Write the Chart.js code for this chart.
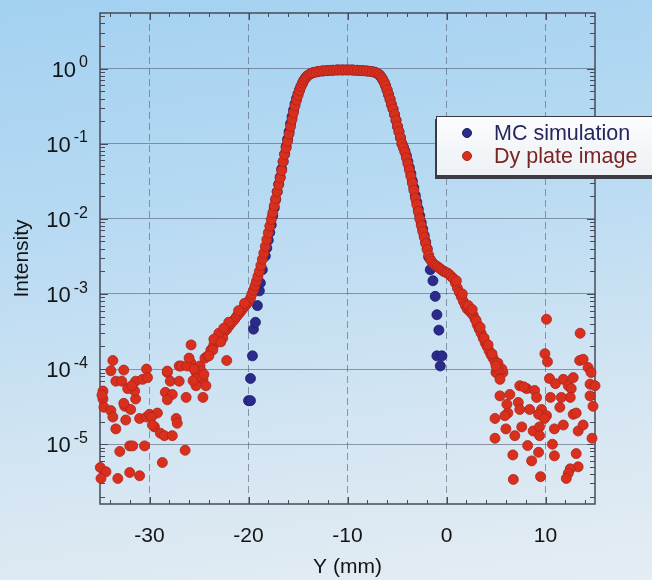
<!DOCTYPE html>
<html>
<head>
<meta charset="utf-8">
<title>Intensity profile</title>
<script src="https://cdn.jsdelivr.net/npm/chart.js@4.4.1/dist/chart.umd.min.js"></script>
<style>
  html, body { margin: 0; padding: 0; }
  body {
    width: 652px;
    height: 580px;
    overflow: hidden;
    background: linear-gradient(172deg, #a3d1f1 0%, #b7daf2 35%, #d3e5f2 70%, #e5edf3 100%);
    font-family: "Liberation Sans", Arial, sans-serif;
  }
  #wrap { position: relative; width: 652px; height: 580px; }
  #legend {
    position: absolute;
    left: 436px;
    top: 116px;
    width: 240px;
    height: 60px;
    box-sizing: border-box;
    border: 1px solid #3a3a44;
    background: linear-gradient(180deg, #fbfcfd, #edf1f5);
    box-shadow: -1px 3px 0 #3c3c46;
  }
  .dot { position: absolute; left: 25px; width: 10px; height: 10px; border-radius: 50%; box-sizing: border-box; }
  .label { position: absolute; left: 57px; height: 23px; line-height: 23px; font-size: 21.5px; white-space: nowrap; }
</style>
</head>
<body>
<div id="wrap">
  <canvas id="chart" width="652" height="580"></canvas>
  <div id="legend"></div>
</div>
<script>
const seriesNames = ["MC simulation", "Dy plate image"];
const xTicks = [-30, -20, -10, 0, 10];
const yExponents = [0, -1, -2, -3, -4, -5];

// Dy plate image: main profile
const dyMain = [
  [-24.4, 1.4e-4], [-24.1, 1.5e-4], [-23.8, 1.8e-4], [-23.5, 2.1e-4], [-23.2, 2.4e-4], [-23.0, 2.6e-4],
  [-22.8, 2.8e-4], [-22.6, 3.0e-4], [-22.4, 3.2e-4], [-22.2, 3.4e-4], [-22.0, 3.7e-4], [-21.8, 4.0e-4],
  [-21.6, 4.3e-4], [-21.4, 4.6e-4], [-21.2, 5.0e-4], [-21.0, 5.4e-4], [-20.8, 5.8e-4], [-20.6, 6.3e-4],
  [-20.4, 6.8e-4], [-20.2, 7.3e-4], [-20.0, 7.9e-4], [-19.8, 8.8e-4], [-19.65, 1.0e-3], [-19.5, 1.12e-3],
  [-19.35, 1.28e-3], [-19.2, 1.48e-3], [-19.05, 1.72e-3], [-18.9, 2.0e-3], [-18.75, 2.4e-3], [-18.6, 2.9e-3],
  [-18.45, 3.5e-3], [-18.3, 4.3e-3], [-18.15, 5.3e-3], [-18.0, 6.5e-3], [-17.85, 8.0e-3], [-17.7, 9.8e-3],
  [-17.55, 1.2e-2], [-17.4, 1.5e-2], [-17.25, 1.85e-2], [-17.1, 2.3e-2], [-16.95, 2.85e-2], [-16.8, 3.5e-2],
  [-16.65, 4.4e-2], [-16.5, 5.8e-2], [-16.35, 7.2e-2], [-16.2, 8.8e-2], [-16.05, 0.108], [-15.9, 0.135],
  [-15.75, 0.17], [-15.6, 0.21], [-15.45, 0.26], [-15.3, 0.32], [-15.15, 0.38], [-15.0, 0.44],
  [-14.85, 0.51], [-14.7, 0.58], [-14.55, 0.64], [-14.4, 0.70], [-14.25, 0.75], [-14.1, 0.79],
  [-13.9, 0.83], [-13.7, 0.86], [-13.5, 0.88], [-13.2, 0.90], [-12.9, 0.92], [-12.6, 0.93],
  [-12.3, 0.94], [-12.0, 0.94], [-11.7, 0.95], [-11.4, 0.95], [-11.1, 0.96], [-10.8, 0.96],
  [-10.5, 0.96], [-10.2, 0.96], [-9.9, 0.96], [-9.6, 0.96], [-9.3, 0.95], [-9.0, 0.95],
  [-8.7, 0.94], [-8.4, 0.94], [-8.1, 0.93], [-7.8, 0.92], [-7.5, 0.91], [-7.2, 0.89],
  [-6.95, 0.86], [-6.75, 0.82], [-6.6, 0.77], [-6.45, 0.72], [-6.3, 0.66], [-6.15, 0.59],
  [-6.0, 0.52], [-5.85, 0.45], [-5.7, 0.39], [-5.55, 0.33], [-5.4, 0.29], [-5.25, 0.245],
  [-5.1, 0.205], [-4.95, 0.17], [-4.8, 0.145], [-4.65, 0.12], [-4.5, 0.10], [-4.35, 0.088],
  [-4.2, 0.077], [-4.05, 0.065], [-3.9, 0.054], [-3.75, 0.045], [-3.6, 0.037], [-3.45, 0.030],
  [-3.3, 0.024], [-3.15, 0.019], [-3.0, 0.0155], [-2.85, 0.0125], [-2.7, 0.010], [-2.55, 0.0082],
  [-2.4, 0.0068], [-2.25, 0.0057], [-2.1, 0.0047], [-1.95, 0.0039], [-1.8, 0.0033], [-1.65, 0.0029],
  [-1.5, 0.0027], [-1.3, 0.0025], [-1.1, 0.0024], [-0.9, 0.0023], [-0.7, 0.0022], [-0.5, 0.0021],
  [-0.3, 0.0020], [-0.1, 0.00195], [0.1, 0.0019], [0.3, 0.0018], [0.5, 0.0017], [0.7, 0.0016],
  [0.9, 0.0014], [1.1, 0.0012], [1.3, 0.00105], [1.5, 9.2e-4], [1.7, 8.0e-4], [1.9, 7.0e-4],
  [2.1, 6.3e-4], [2.3, 6.0e-4], [2.5, 5.6e-4], [2.7, 5.2e-4], [2.9, 4.6e-4], [3.1, 3.9e-4],
  [3.3, 3.4e-4], [3.5, 3.0e-4], [3.7, 2.6e-4], [3.9, 2.25e-4], [4.1, 2.0e-4], [4.3, 1.75e-4],
  [4.5, 1.55e-4], [4.7, 1.4e-4], [4.9, 1.25e-4], [5.1, 1.12e-4], [5.3, 1.02e-4], [5.5, 9.5e-5],
  [5.7, 9.0e-5],
  // second row of the band
  [-20.4, 7.5e-4], [-21.0, 6.0e-4], [-22.0, 4.2e-4], [-22.6, 2.6e-4], [-23.0, 3.0e-4], [-23.6, 1.8e-4],
  [1.0, 1.5e-3], [1.6, 1.0e-3], [2.2, 7.0e-4], [2.6, 6.2e-4], [3.0, 4.4e-4], [3.4, 3.6e-4],
  [3.8, 2.6e-4], [4.2, 2.1e-4], [4.6, 1.6e-4], [5.2, 1.2e-4], [5.0, 9.0e-5]
];

// Dy plate image: noise on the left
const dyLeftTail = [
  [-33.7, 1.3e-4], [-33.9, 9.5e-5], [-32.6, 9.7e-5], [-30.3, 1.0e-4], [-33.4, 6.9e-5], [-32.8, 6.9e-5],
  [-34.7, 5.1e-5], [-34.7, 4.0e-5], [-34.6, 3.1e-5], [-33.9, 2.8e-5], [-33.7, 2.3e-5], [-33.4, 1.6e-5],
  [-32.4, 2.1e-5], [-32.5, 3.2e-5], [-31.9, 2.9e-5], [-31.4, 4.0e-5], [-31.5, 5.1e-5], [-31.4, 6.9e-5],
  [-30.7, 7.3e-5], [-30.2, 7.7e-5], [-31.0, 2.2e-5], [-30.3, 2.3e-5], [-30.0, 2.5e-5], [-29.2, 2.6e-5],
  [-29.5, 1.7e-5], [-28.9, 1.4e-5], [-28.5, 1.3e-5], [-27.7, 1.3e-5], [-27.3, 2.2e-5], [-27.2, 1.9e-5],
  [-28.2, 9.0e-5], [-27.9, 6.9e-5], [-28.4, 4.9e-5], [-27.7, 4.6e-5], [-28.2, 3.9e-5], [-27.0, 6.9e-5],
  [-26.3, 4.2e-5], [-25.8, 2.1e-4], [-27.0, 1.1e-4], [-25.8, 1.2e-4], [-25.3, 9.0e-5], [-24.6, 7.3e-5],
  [-25.3, 6.0e-5], [-24.3, 6.0e-5], [-24.9, 1.1e-4], [-24.6, 4.2e-5], [-24.0, 1.5e-4], [-23.5, 2.5e-4],
  [-22.8, 2.3e-4], [-22.5, 3.5e-4], [-22.2, 1.3e-4], [-33.0, 8.0e-6], [-32.0, 9.5e-6], [-31.7, 9.5e-6],
  [-30.5, 9.5e-6], [-26.4, 8.3e-6], [-28.7, 5.7e-6], [-34.97, 4.9e-6], [-34.4, 4.3e-6], [-34.9, 3.5e-6],
  [-33.2, 3.5e-6], [-32.0, 4.2e-6], [-31.0, 3.8e-6], [-26.8, 1.1e-4], [-28.2, 9.4e-5], [-26.2, 1.1e-4],
  [-25.0, 8.0e-5], [-25.6, 7.0e-5], [-24.8, 9.5e-5], [-25.5, 1.0e-4], [-24.5, 8.5e-5], [-26.0, 1.4e-4],
  [-32.2, 5.5e-5], [-31.8, 6.0e-5], [-32.6, 3.5e-5], [-29.8, 2.3e-5], [-29.7, 1.8e-5], [-34.8, 4.5e-5]
];

// Dy plate image: noise on the right
const dyRightTail = [
  [10.1, 4.6e-4], [13.5, 3.0e-4], [9.94, 1.6e-4], [10.2, 1.25e-4], [13.45, 1.3e-4], [13.8, 1.35e-4],
  [14.3, 1.05e-4], [14.6, 9.0e-5], [5.07, 9.0e-5], [5.6, 1.0e-4], [5.4, 7.3e-5], [10.4, 7.5e-5],
  [11.8, 7.3e-5], [12.8, 7.7e-5], [14.5, 6.3e-5], [15.0, 6.0e-5], [12.3, 6.0e-5], [12.6, 5.5e-5],
  [12.5, 4.2e-5], [11.6, 4.2e-5], [11.45, 3.1e-5], [14.5, 4.4e-5], [14.8, 3.2e-5], [7.4, 6.0e-5],
  [8.1, 5.5e-5], [8.9, 5.2e-5], [9.1, 4.2e-5], [5.4, 4.4e-5], [6.4, 4.6e-5], [10.5, 4.2e-5],
  [6.1, 3.4e-5], [6.2, 2.6e-5], [5.9, 2.4e-5], [7.25, 3.6e-5], [7.4, 2.9e-5], [8.4, 2.9e-5],
  [9.6, 2.9e-5], [9.3, 2.5e-5], [10.1, 2.4e-5], [9.9, 2.2e-5], [12.8, 2.5e-5], [13.1, 2.6e-5],
  [4.9, 2.2e-5], [6.0, 1.6e-5], [6.9, 1.3e-5], [7.6, 1.7e-5], [8.75, 1.5e-5], [9.4, 1.7e-5],
  [9.4, 1.3e-5], [10.9, 1.6e-5], [11.8, 1.8e-5], [13.3, 1.5e-5], [13.8, 1.8e-5], [14.7, 1.2e-5],
  [4.9, 1.2e-5], [8.2, 9.6e-6], [10.7, 1.0e-5], [6.7, 7.2e-6], [9.3, 7.8e-6], [8.6, 6.0e-6],
  [10.9, 7.0e-6], [13.1, 7.5e-6], [13.3, 5.0e-6], [12.5, 4.7e-6], [12.3, 4.1e-6], [12.1, 3.5e-6],
  [6.75, 3.4e-6], [9.5, 3.7e-6], [7.8, 5.8e-5], [11.0, 6.4e-5], [5.2, 1.0e-4], [5.0, 1.1e-4]
];

// MC simulation
const mcMain = [
  [-20.0, 3.8e-5], [-19.8, 3.8e-5], [-19.8, 7.5e-5], [-19.6, 1.5e-4], [-19.5, 3.4e-4], [-19.3, 4.2e-4],
  [-19.1, 7.0e-4], [-18.9, 1.1e-3], [-18.8, 1.4e-3], [-18.6, 2.1e-3], [-18.3, 3.2e-3], [-18.15, 4.1e-3],
  [-18.0, 5.2e-3], [-17.85, 6.6e-3], [-17.7, 8.3e-3], [-17.55, 1.1e-2], [-17.4, 1.4e-2], [-17.25, 1.8e-2],
  [-17.1, 2.3e-2], [-16.95, 2.9e-2], [-16.8, 3.6e-2], [-16.65, 4.6e-2], [-16.5, 5.8e-2], [-16.35, 7.3e-2],
  [-16.2, 0.092], [-16.05, 0.115], [-15.9, 0.145], [-15.75, 0.185], [-15.6, 0.23], [-15.45, 0.28],
  [-15.3, 0.34], [-15.15, 0.40], [-15.0, 0.46], [-14.85, 0.52], [-14.7, 0.58], [-14.55, 0.64],
  [-14.4, 0.70], [-14.2, 0.76], [-14.0, 0.81], [-13.7, 0.86], [-13.4, 0.89], [-13.0, 0.91],
  [-12.5, 0.93], [-12.0, 0.94], [-11.5, 0.95], [-11.0, 0.96], [-10.5, 0.96], [-10.0, 0.96],
  [-9.5, 0.96], [-9.0, 0.95], [-8.5, 0.94], [-8.0, 0.93], [-7.5, 0.91], [-7.2, 0.89],
  [-6.95, 0.86], [-6.75, 0.82], [-6.6, 0.77], [-6.45, 0.72], [-6.3, 0.66], [-6.15, 0.59],
  [-6.0, 0.52], [-5.85, 0.45], [-5.7, 0.39], [-5.55, 0.33], [-5.4, 0.29], [-5.25, 0.245],
  [-5.1, 0.205], [-4.95, 0.17], [-4.8, 0.145], [-4.65, 0.12], [-4.5, 0.10], [-4.35, 0.09],
  [-4.2, 0.08], [-4.05, 0.069], [-3.9, 0.058], [-3.75, 0.048], [-3.6, 0.040], [-3.45, 0.032],
  [-3.3, 0.026], [-3.15, 0.0205], [-3.0, 0.0167], [-2.85, 0.0135], [-2.7, 0.011], [-2.55, 0.0089],
  [-2.4, 0.0073], [-2.25, 0.006], [-2.1, 0.0049], [-1.95, 0.004], [-1.8, 0.0031], [-1.64, 2.1e-3],
  [-1.37, 1.5e-3], [-1.14, 9.3e-4], [-0.97, 5.3e-4], [-0.77, 3.3e-4], [-0.97, 1.5e-4], [-0.46, 1.5e-4],
  [-0.63, 1.1e-4]
];

const dyPoints = dyMain.concat(dyLeftTail, dyRightTail);
const mcPoints = mcMain;

const colors = {
  mc: "#2b2b8c",
  mcEdge: "#1c1c66",
  dy: "#d9301e",
  dyEdge: "#b0221a",
  mcText: "#26265e",
  dyText: "#7a2424",
  ink: "#141414",
  grid: "rgba(85, 95, 115, 0.6)",
  frame: "#474b58"
};

const fontFamily = '"Liberation Sans", Arial, sans-serif';

const frameAndLabels = {
  id: "frameAndLabels",
  beforeDatasetsDraw(chart) {
    const { ctx, chartArea: a, scales: { x, y } } = chart;
    ctx.save();
    ctx.strokeStyle = colors.frame;
    ctx.lineWidth = 1;
    ctx.beginPath();
    for (let v = -34; v <= 14; v += 2) {
      const px = Math.round(x.getPixelForValue(v)) + 0.5;
      const len = v % 10 === 0 ? 7 : 4;
      ctx.moveTo(px, a.bottom);
      ctx.lineTo(px, a.bottom - len);
      ctx.moveTo(px, a.top);
      ctx.lineTo(px, a.top + len);
    }
    for (let e = -6; e <= 0; e++) {
      for (let k = 1; k <= 9; k++) {
        const v = k * Math.pow(10, e);
        if (v < y.min || v > y.max) continue;
        const py = Math.round(y.getPixelForValue(v)) + 0.5;
        const len = k === 1 ? 8 : 5;
        ctx.moveTo(a.left, py);
        ctx.lineTo(a.left + len, py);
        ctx.moveTo(a.right, py);
        ctx.lineTo(a.right - len, py);
      }
    }
    ctx.stroke();
    ctx.lineWidth = 1.5;
    ctx.strokeRect(a.left, a.top, a.right - a.left, a.bottom - a.top);
    ctx.restore();
  },
  afterDraw(chart) {
    const { ctx, chartArea: a, scales: { y } } = chart;
    ctx.save();
    ctx.fillStyle = colors.ink;
    ctx.textBaseline = "alphabetic";
    const right = a.left - 12;
    yExponents.forEach((e) => {
      const py = y.getPixelForValue(Math.pow(10, e));
      const expText = String(e);
      ctx.font = "16px " + fontFamily;
      const ew = ctx.measureText(expText).width;
      ctx.textAlign = "left";
      ctx.fillText(expText, right - ew, py - 1.3);
      ctx.font = "22px " + fontFamily;
      ctx.textAlign = "right";
      ctx.fillText("10", right - ew - 3, py + 7.9);
    });
    ctx.restore();
  }
};

const toXY = (pts) => pts.map(([x, y]) => ({ x, y }));

new Chart(document.getElementById("chart"), {
  type: "scatter",
  data: {
    datasets: [
      {
        label: seriesNames[0],
        data: toXY(mcPoints),
        pointRadius: 5,
        pointHoverRadius: 5,
        pointBackgroundColor: colors.mc,
        pointBorderColor: colors.mcEdge,
        pointBorderWidth: 0.8,
        clip: false,
        order: 2
      },
      {
        label: seriesNames[1],
        data: toXY(dyPoints),
        pointRadius: 5,
        pointHoverRadius: 5,
        pointBackgroundColor: colors.dy,
        pointBorderColor: colors.dyEdge,
        pointBorderWidth: 0.8,
        clip: false,
        order: 1
      }
    ]
  },
  options: {
    responsive: false,
    animation: false,
    devicePixelRatio: 1,
    events: [],
    layout: { padding: { left: 0, right: 57, top: 13, bottom: 0 } },
    plugins: {
      legend: { display: false },
      tooltip: { enabled: false }
    },
    scales: {
      x: {
        type: "linear",
        min: -35,
        max: 15,
        afterBuildTicks: (scale) => { scale.ticks = xTicks.map((v) => ({ value: v })); },
        afterFit: (scale) => { scale.height = 76; },
        grid: { color: colors.grid, lineWidth: 1, drawTicks: false },
        border: { display: false, dash: [7, 4] },
        ticks: {
          color: colors.ink,
          padding: 20,
          maxRotation: 0,
          font: { family: fontFamily, size: 21 }
        },
        title: {
          display: true,
          text: "Y (mm)",
          color: colors.ink,
          font: { family: fontFamily, size: 21, lineHeight: 1.2 },
          padding: { top: 0, bottom: 0 }
        }
      },
      y: {
        type: "logarithmic",
        min: 1.6e-6,
        max: 5.5,
        afterBuildTicks: (scale) => { scale.ticks = yExponents.map((e) => ({ value: Math.pow(10, e) })); },
        afterFit: (scale) => { scale.width = 100; },
        grid: { color: colors.grid, lineWidth: 1, drawTicks: false },
        border: { display: false },
        ticks: { display: false },
        title: {
          display: true,
          text: "Intensity",
          color: colors.ink,
          font: { family: fontFamily, size: 21, lineHeight: 1.2 },
          padding: { top: 9.4, bottom: 0 }
        }
      }
    }
  },
  plugins: [frameAndLabels]
});

// legend box
const legendBox = document.getElementById("legend");
[
  { name: seriesNames[0], fill: colors.mc, edge: colors.mcEdge, text: colors.mcText, cy: 16 },
  { name: seriesNames[1], fill: colors.dy, edge: colors.dyEdge, text: colors.dyText, cy: 39 }
].forEach((item) => {
  const dot = document.createElement("div");
  dot.className = "dot";
  dot.style.top = (item.cy - 5) + "px";
  dot.style.background = item.fill;
  dot.style.border = "1px solid " + item.edge;
  legendBox.appendChild(dot);
  const label = document.createElement("div");
  label.className = "label";
  label.style.top = (item.cy - 11.5) + "px";
  label.style.color = item.text;
  label.textContent = item.name;
  legendBox.appendChild(label);
});
</script>
</body>
</html>
